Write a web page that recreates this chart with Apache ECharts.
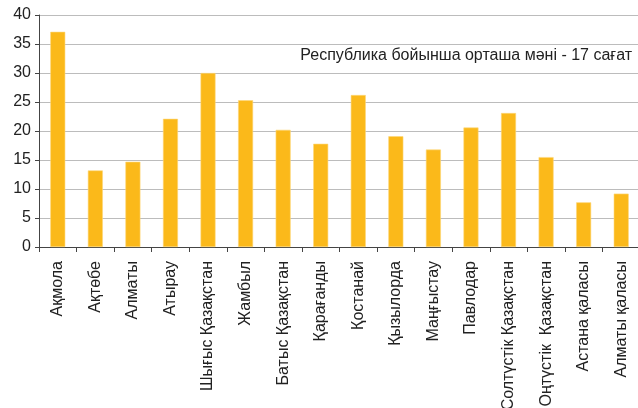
<!DOCTYPE html>
<html>
<head>
<meta charset="utf-8">
<script src="https://cdn.jsdelivr.net/npm/echarts@6/dist/echarts.min.js"></script>
<style>
  html, body { margin: 0; padding: 0; background: #fff; }
  #chart { width: 638px; height: 408px; }
</style>
</head>
<body>
<div id="chart"></div>
<script>
  // облыстар
  var categories = ['Ақмола', 'Ақтөбе', 'Алматы', 'Атырау', 'Шығыс Қазақстан', 'Жамбыл',
    'Батыс Қазақстан', 'Қарағанды', 'Қостанай', 'Қызылорда', 'Маңғыстау', 'Павлодар',
    'Солтүстік Қазақстан', 'Оңтүстік  Қазақстан', 'Астана қаласы', 'Алматы қаласы']
  var hours = [37.1, 13.2, 14.7, 22.1, 30.0, 25.3, 20.2, 17.8, 26.2, 19.1, 16.8, 20.6, 23.1, 15.5, 7.7, 9.2]
  var yTicks = [0, 5, 10, 15, 20, 25, 30, 35, 40]
  var note = 'Республика бойынша орташа мәні - 17 сағат'

  var font = 'Liberation Sans, Arial, sans-serif'
  var chart = echarts.init(document.getElementById('chart'))
  chart.setOption({
    animation: false,
    grid: { left: 39, top: 15, width: 601, height: 232, containLabel: false, outerBoundsMode: 'none' },
    xAxis: {
      type: 'category',
      data: categories,
      axisLine: { lineStyle: { color: '#444', width: 1 } },
      axisTick: { show: true, length: 5, lineStyle: { color: '#444' } },
      axisLabel: {
        rotate: 90, interval: 0, margin: 14,
        color: '#222', fontSize: 16, fontFamily: font
      }
    },
    yAxis: {
      type: 'value',
      min: yTicks[0],
      max: yTicks[yTicks.length - 1],
      interval: 5,
      axisLine: { show: true, lineStyle: { color: '#444', width: 1 } },
      axisTick: { show: true, length: 4, lineStyle: { color: '#444' } },
      splitLine: { lineStyle: { color: '#bcbcbc', width: 1 } },
      axisLabel: { margin: 8, color: '#222', fontSize: 16, fontFamily: font }
    },
    series: [{
      type: 'bar',
      data: hours,
      barWidth: 15,
      itemStyle: { color: '#fbb91a', borderColor: '#fdd77a', borderWidth: 0.6 }
    }],
    graphic: [{
      type: 'text',
      right: 6,
      top: 48,
      style: { text: note, fill: '#222', fontSize: 16, fontFamily: font }
    }]
  })
</script>
</body>
</html>
